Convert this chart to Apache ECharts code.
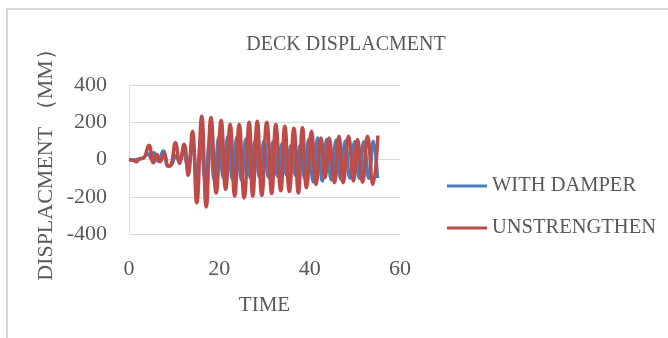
<!DOCTYPE html>
<html>
<head>
    <meta charset="utf-8" />
    <title>DECK DISPLACMENT</title>
    <script src="https://cdn.jsdelivr.net/npm/echarts@6/dist/echarts.min.js"></script>
    <style>
        html, body { margin: 0; padding: 0; background: #ffffff; }
        /* frame of the chart area, only top and left edges are visible */
        #frame {
            position: absolute; left: 6px; top: 8px; width: 700px; height: 400px;
            border-top: 2px solid #d9d9d9; border-left: 2px solid #d9d9d9;
        }
        #chart { position: absolute; left: 0; top: 0; width: 668px; height: 338px; }
    </style>
</head>
<body>
<div id="frame"></div>
<div id="chart"></div>
<script type="text/javascript">
    // tick labels
    var xTicks = [0, 20, 40, 60];
    var yTicks = [-400, -200, 0, 200, 400];

    // [time, displacement] (peaks and troughs)
    var withDamper = [
        [0, 0], [1, -3], [2, 2], [3, 6], [4.3, 30], [4.9, 5], [5.5, 36], [6.5, -9],
        [7.6, 45], [8.7, -36], [9.5, -25], [10.3, 20], [11.1, -5], [12.0, 40],
        [13.0, -40], [14.0, 90], [15.0, -100], [15.9, 100], [16.9, -110], [17.9, 105],
        [18.9, -110], [19.9, 120], [20.9, -100], [21.9, 125], [22.9, -105], [23.9, 120],
        [24.9, -110], [25.9, 110], [26.9, -100], [27.9, 100], [28.9, -95], [29.9, 100],
        [30.9, -95], [31.9, 95], [32.9, -90], [33.9, 85], [34.9, -85], [35.9, 75],
        [36.9, -85], [37.9, 75], [38.9, -100], [39.8, 108], [40.8, -120], [41.8, 115],
        [42.8, -115], [43.8, 108], [44.8, -110], [45.9, 105], [46.9, -105], [47.9, 100],
        [48.9, -100], [50.0, 95], [51.0, -100], [52.0, 95], [53.1, -100], [54.1, 98],
        [55.0, -100]
    ];
    var unstrengthen = [
        [0, 0], [1, -5], [1.6, -12], [2.4, 5], [3.2, 8], [4.4, 77], [5.4, -18],
        [6.2, 27], [6.9, -12], [7.8, 30], [8.7, -36], [9.3, -30], [10.3, 90],
        [11.2, -20], [12.2, 82], [13.1, -85], [14.05, 152], [15.0, -233], [16.1, 232],
        [17.1, -255], [18.15, 225], [19.3, -180], [20.4, 209], [21.4, -160], [22.4, 188],
        [23.4, -196], [24.4, 188], [25.5, -206], [26.6, 200], [27.4, -197], [28.4, 206],
        [29.4, -193], [30.5, 200], [31.6, -183], [32.5, 188], [33.6, -168], [34.5, 179],
        [35.5, -172], [36.5, 168], [37.5, -180], [38.4, 170], [39.3, -152], [40.4, 152],
        [41.4, -134], [42.5, 116], [43.4, -98], [44.3, 116], [45.5, -125], [46.5, 125],
        [47.4, -125], [48.6, 125], [49.7, -116], [50.6, 107], [51.7, -122], [52.8, 125],
        [54.0, -134], [55.1, 129]
    ];

    var textColor = '#595959';
    var fontFamily = '"Liberation Serif", "DejaVu Serif", serif';

    var myChart = echarts.init(document.getElementById('chart'), null, { renderer: 'canvas' });
    var option = {
        animation: false,
        textStyle: { fontFamily: fontFamily, color: textColor },
        title: {
            text: 'DECK DISPLACMENT',
            left: 341, textAlign: 'center',
            top: 30,
            textStyle: { fontFamily: fontFamily, fontSize: 20, fontWeight: 'normal', color: textColor }
        },
        legend: {
            orient: 'vertical',
            left: 442,
            top: 170,
            itemWidth: 40,
            itemHeight: 3,
            itemGap: 20,
            icon: 'rect',
            textStyle: { fontFamily: fontFamily, fontSize: 20.5, lineHeight: 22, color: textColor },
            data: ['WITH DAMPER', 'UNSTRENGTHEN']
        },
        grid: { left: 129, right: 268, top: 85, bottom: 104, containLabel: false },
        xAxis: {
            type: 'value',
            min: xTicks[0], max: xTicks[xTicks.length - 1], interval: 20,
            name: 'TIME',
            nameLocation: 'middle',
            nameGap: 61,
            nameTextStyle: { fontFamily: fontFamily, fontSize: 21, color: textColor },
            axisLine: { show: false },
            axisTick: { show: false },
            splitLine: { show: false },
            axisLabel: { margin: 24, fontSize: 22, color: textColor, fontFamily: fontFamily }
        },
        yAxis: {
            type: 'value',
            min: yTicks[0], max: yTicks[yTicks.length - 1], interval: 200,
            name: 'DISPLACMENT （MM）',
            nameLocation: 'middle',
            nameGap: 72,
            nameRotate: 90,
            nameTextStyle: { fontFamily: fontFamily, fontSize: 22, color: textColor },
            axisLine: { show: true, lineStyle: { color: '#d9d9d9', width: 1 } },
            axisTick: { show: false },
            splitLine: { show: true, lineStyle: { color: '#d9d9d9', width: 1 } },
            axisLabel: { margin: 22, fontSize: 22, color: textColor, fontFamily: fontFamily }
        },
        series: [
            {
                name: 'WITH DAMPER',
                type: 'line',
                smooth: true,
                symbol: 'none',
                data: withDamper,
                itemStyle: { color: '#4a7ebb' },
                lineStyle: { color: '#4a7ebb', width: 3.5 }
            },
            {
                name: 'UNSTRENGTHEN',
                type: 'line',
                smooth: true,
                symbol: 'none',
                data: unstrengthen,
                itemStyle: { color: '#be4b48' },
                lineStyle: { color: '#be4b48', width: 3.5 }
            }
        ]
    };
    myChart.setOption(option);
</script>
</body>
</html>
